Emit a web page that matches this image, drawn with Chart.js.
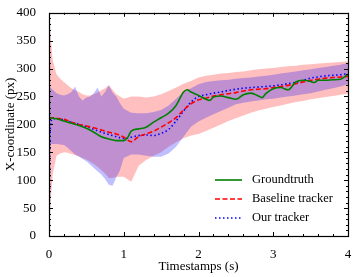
<!DOCTYPE html>
<html>
<head>
<meta charset="utf-8">
<script src="https://cdn.jsdelivr.net/npm/chart.js@4.4.1/dist/chart.umd.min.js"></script>
<style>
  html, body { margin: 0; padding: 0; background: #fff; }
  #wrap { width: 357px; height: 277px; }
</style>
</head>
<body>
<div id="wrap"><canvas id="track"></canvas></div>
<script>
// time samples (s) for the shaded bands
var bandTime = [0, 0.02, 0.05, 0.1, 0.15, 0.2, 0.25, 0.3, 0.35, 0.4, 0.45, 0.5, 0.55, 0.6, 0.65, 0.7, 0.75, 0.8, 0.85, 0.9, 0.95, 1.0,
    1.1, 1.2, 1.3, 1.4, 1.5, 1.6, 1.7, 1.8, 1.9, 2.0, 2.1, 2.2, 2.3, 2.4, 2.5, 2.6, 2.7, 2.8, 2.9, 3.0,
    3.1, 3.2, 3.3, 3.4, 3.5, 3.6, 3.7, 3.8, 3.9, 4.0];
var baseUpper = [430, 360, 315, 290, 282, 276, 270, 265, 261, 258, 254, 252, 252, 254, 257, 261, 265, 270, 262, 254, 250, 246,
    250, 250, 248, 250, 254, 260, 266, 273, 278, 284, 287, 289, 291, 292, 294, 295, 297, 299, 300, 301,
    303, 304, 305, 307, 308, 309, 310, 311, 312, 313];
var baseLower = [-20, 60, 110, 144, 148, 150, 149, 147, 145, 143, 140, 137, 133, 129, 124, 118, 112, 104, 104, 106, 106, 106,
    97, 126, 136, 144, 150, 160, 168, 175, 180, 183, 188, 194, 200, 206, 211, 216, 221, 225, 228, 231,
    234, 237, 240, 242, 245, 247, 249, 251, 253, 255];
var oursUpper = [268, 266, 262, 256, 253, 252, 254, 258, 268, 250, 243, 248, 250, 256, 266, 250, 258, 270, 257, 250, 238, 228,
    221, 220, 220, 222, 226, 234, 246, 258, 265, 272, 276, 278, 279, 280, 282, 283, 284, 286, 287, 289,
    291, 293, 295, 297, 299, 301, 303, 305, 307, 310];
var oursLower = [165, 165, 165, 165, 164, 163, 158, 152, 146, 142, 138, 134, 128, 122, 116, 110, 102, 92, 90, 105, 118, 140,
    146, 146, 144, 142, 142, 148, 160, 178, 196, 205, 212, 218, 224, 230, 236, 239, 241, 243, 245, 246,
    248, 250, 252, 254, 256, 259, 262, 265, 268, 272];

// tracker outputs
var lineTime = [0, 0.02, 0.05, 0.1, 0.2, 0.3, 0.4, 0.5, 0.6, 0.7, 0.8, 0.9, 1.0,
    1.1, 1.2, 1.3, 1.4, 1.5, 1.6, 1.7, 1.8, 1.9, 2.0, 2.1, 2.2, 2.3, 2.4, 2.5, 2.6, 2.7, 2.8, 2.9, 3.0,
    3.1, 3.2, 3.3, 3.4, 3.5, 3.6, 3.7, 3.8, 3.9, 4.0];
var baseline = [212, 212, 212, 211, 209, 204, 200, 197, 194, 190, 186, 183, 177,
    169, 178, 183, 188, 195, 203, 212, 226, 237, 244, 247, 251, 253, 255, 257, 260, 262, 263, 264, 266,
    268, 270, 273, 276, 279, 281, 283, 284, 285, 286];
var ours = [5, 198, 210, 210, 208, 204, 200, 196, 191, 186, 182, 178, 175,
    177, 180, 181, 180, 184, 191, 206, 224, 240, 250, 253, 256, 258, 261, 263, 265, 266, 267, 268, 269,
    271, 273, 275, 279, 283, 285, 287, 288, 289, 291];

// groundtruth
var gtTime = [0, 0.1, 0.2, 0.3, 0.4, 0.5, 0.6, 0.7, 0.8, 0.9, 1.0, 1.05, 1.1, 1.2, 1.3, 1.4, 1.5, 1.6, 1.7, 1.8, 1.85,
    1.9, 2.0, 2.1, 2.15, 2.2, 2.3, 2.4, 2.5, 2.6, 2.7, 2.8, 2.85, 2.9, 3.0, 3.1, 3.2, 3.3, 3.4, 3.5, 3.55,
    3.6, 3.7, 3.8, 3.9, 4.0];
var groundtruth = [212, 210, 206, 202, 198, 193, 186, 178, 174, 171, 171, 176, 188, 192, 195, 204, 212, 220, 234, 258, 262,
    258, 252, 245, 243, 249, 251, 248, 245, 253, 256, 251, 248, 255, 264, 266, 262, 276, 279, 277, 275,
    279, 279, 280, 281, 290];

var seriesLabels = ['Groundtruth', 'Baseline tracker', 'Our tracker'];
var xTicks = [0, 1, 2, 3, 4];
var yTicks = [0, 50, 100, 150, 200, 250, 300, 350, 400];

function pts(t, v) {
    return t.map(function (x, i) { return { x: x, y: v[i] }; });
}

Chart.defaults.font.family = "'Liberation Serif', 'DejaVu Serif', serif";
Chart.defaults.font.size = 13;
Chart.defaults.color = '#000';

// inward ticks on all four sides plus the frame
var frameTicks = {
    id: 'frameTicks',
    afterDatasetsDraw: function (chart) {
        var ctx = chart.ctx, a = chart.chartArea, x = chart.scales.x, y = chart.scales.y;
        ctx.save();
        ctx.strokeStyle = '#000';
        ctx.lineWidth = 1;
        ctx.beginPath();
        for (var i = 0; i <= 20; i++) {
            var px = Math.round(x.getPixelForValue(i * 0.2)) + 0.5;
            var len = i % 5 === 0 ? 4 : 2;
            ctx.moveTo(px, a.bottom); ctx.lineTo(px, a.bottom - len);
            ctx.moveTo(px, a.top); ctx.lineTo(px, a.top + len);
        }
        for (var j = 0; j <= 40; j++) {
            var py = Math.round(y.getPixelForValue(j * 10)) + 0.5;
            var l2 = j % 5 === 0 ? 4 : 2;
            ctx.moveTo(a.left, py); ctx.lineTo(a.left + l2, py);
            ctx.moveTo(a.right, py); ctx.lineTo(a.right - l2, py);
        }
        ctx.stroke();
        ctx.lineWidth = 1.2;
        ctx.strokeRect(Math.round(a.left) + 0.5, Math.round(a.top) + 0.5,
            Math.round(a.right - a.left), Math.round(a.bottom - a.top));
        ctx.restore();
    }
};

// legend in the lower right of the plot
var cornerLegend = {
    id: 'cornerLegend',
    afterDraw: function (chart) {
        var ctx = chart.ctx, a = chart.chartArea;
        ctx.save();
        ctx.font = "12.5px 'Liberation Serif', serif";
        ctx.textBaseline = 'middle';
        ctx.fillStyle = '#000';
        for (var i = 0; i < 3; i++) {
            var ds = chart.data.datasets[i];
            var yy = a.bottom - 56 + i * 19;
            var x0 = a.right - 133;
            ctx.strokeStyle = ds.borderColor;
            ctx.lineWidth = ds.borderWidth;
            ctx.setLineDash(ds.borderDash || []);
            ctx.beginPath();
            ctx.moveTo(x0, yy); ctx.lineTo(x0 + 27, yy);
            ctx.stroke();
            ctx.setLineDash([]);
            ctx.fillText(ds.label, x0 + 37, yy);
        }
        ctx.restore();
    }
};

new Chart(document.getElementById('track').getContext('2d'), {
    type: 'line',
    data: {
        datasets: [{
            label: seriesLabels[0],
            data: pts(gtTime, groundtruth),
            borderColor: '#008000',
            borderWidth: 1.6,
            pointRadius: 0,
            cubicInterpolationMode: 'monotone',
            fill: false,
            order: 0
        }, {
            label: seriesLabels[1],
            data: pts(lineTime, baseline),
            borderColor: '#ff0000',
            borderWidth: 1.6,
            borderDash: [5, 2.5],
            pointRadius: 0,
            cubicInterpolationMode: 'monotone',
            fill: false,
            order: 1
        }, {
            label: seriesLabels[2],
            data: pts(lineTime, ours),
            borderColor: '#0000ff',
            borderWidth: 1.6,
            borderDash: [1.5, 2.5],
            pointRadius: 0,
            cubicInterpolationMode: 'monotone',
            fill: false,
            order: 2
        }, {
            label: 'baseline upper',
            data: pts(bandTime, baseUpper),
            borderWidth: 0,
            pointRadius: 0,
            backgroundColor: 'rgba(255, 0, 0, 0.25)',
            fill: '+1',
            order: 4
        }, {
            label: 'baseline lower',
            data: pts(bandTime, baseLower),
            borderWidth: 0,
            pointRadius: 0,
            fill: false,
            order: 4
        }, {
            label: 'ours upper',
            data: pts(bandTime, oursUpper),
            borderWidth: 0,
            pointRadius: 0,
            backgroundColor: 'rgba(0, 0, 255, 0.25)',
            fill: '+1',
            order: 3
        }, {
            label: 'ours lower',
            data: pts(bandTime, oursLower),
            borderWidth: 0,
            pointRadius: 0,
            fill: false,
            order: 3
        }]
    },
    options: {
        responsive: true,
        maintainAspectRatio: false,
        animation: false,
        layout: { padding: { top: 11, right: 9, left: 0, bottom: 0 } },
        plugins: {
            legend: { display: false },
            tooltip: { enabled: false }
        },
        scales: {
            x: {
                type: 'linear',
                min: 0,
                max: 4,
                afterFit: function (s) { s.height = 41; },
                afterBuildTicks: function (s) { s.ticks = xTicks.map(function (v) { return { value: v }; }); },
                grid: { display: false },
                border: { display: false },
                ticks: { padding: 3, maxRotation: 0 },
                title: { display: true, text: 'Timestamps (s)', padding: { top: 2, bottom: 3 } }
            },
            y: {
                min: 0,
                max: 400,
                afterFit: function (s) { s.width = 49; },
                afterBuildTicks: function (s) { s.ticks = yTicks.map(function (v) { return { value: v }; }); },
                grid: { display: false },
                border: { display: false },
                ticks: { padding: 5 },
                title: { display: true, text: 'X-coordinate (px)', padding: { top: 3, bottom: 2 } }
            }
        }
    },
    plugins: [frameTicks, cornerLegend]
});
</script>
</body>
</html>
